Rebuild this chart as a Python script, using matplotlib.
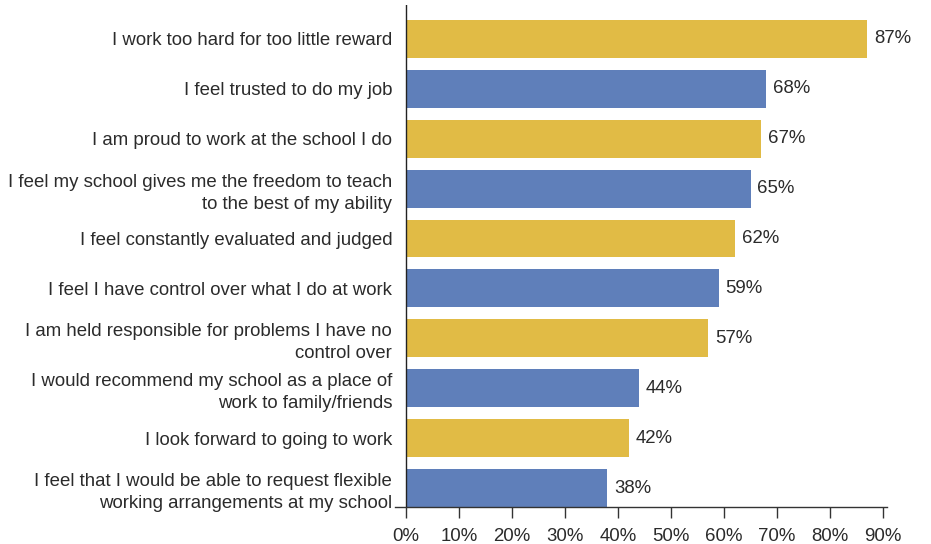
# Teacher survey: share agreeing with each statement, horizontal bars.
import matplotlib.pyplot as plt

plt.rcParams["font.family"] = ["Liberation Sans", "DejaVu Sans"]

statements = [
    "I work too hard for too little reward",
    "I feel trusted to do my job",
    "I am proud to work at the school I do",
    "I feel my school gives me the freedom to teach\nto the best of my ability",
    "I feel constantly evaluated and judged",
    "I feel I have control over what I do at work",
    "I am held responsible for problems I have no\ncontrol over",
    "I would recommend my school as a place of\nwork to family/friends",
    "I look forward to going to work",
    "I feel that I would be able to request flexible\nworking arrangements at my school",
]
agree_pct = [87, 68, 67, 65, 62, 59, 57, 44, 42, 38]
tick_vals = [0, 10, 20, 30, 40, 50, 60, 70, 80, 90]

GOLD = "#e1bb45"
BLUE = "#5f7fba"
TEXT = "#2b2b2b"
FS = 13.4

fig = plt.figure(figsize=(9.31, 5.44), dpi=100)
ax = fig.add_axes([395 / 931, 37 / 544, 492 / 931, 502 / 544])

colors = [GOLD if i % 2 == 0 else BLUE for i in range(len(statements))]
ypos = list(range(len(statements)))
ax.barh(ypos, agree_pct, height=0.76, color=colors, zorder=2)

for y, v in zip(ypos, agree_pct):
    ax.text(v + 1.3, y, f"{v}%", va="center", ha="left", fontsize=FS, color=TEXT)

ax.set_xlim(-2.08, 90.75)
ax.set_ylim(9.38, -0.68)

ax.set_yticks(ypos)
ax.set_yticklabels(statements, fontsize=FS, color=TEXT, linespacing=1.38)
ax.tick_params(axis="y", length=0, pad=2)

ax.set_xticks(tick_vals)
ax.set_xticklabels([f"{t}%" for t in tick_vals], fontsize=FS, color=TEXT)
ax.tick_params(axis="x", direction="out", length=8, width=1, color="#333333", pad=7)

for side in ["top", "right", "left"]:
    ax.spines[side].set_visible(False)
ax.spines["bottom"].set_color("#333333")
ax.spines["bottom"].set_linewidth(1)
ax.axvline(0, color="#222222", linewidth=1, zorder=3)

fig.savefig("out.png", dpi=100)
